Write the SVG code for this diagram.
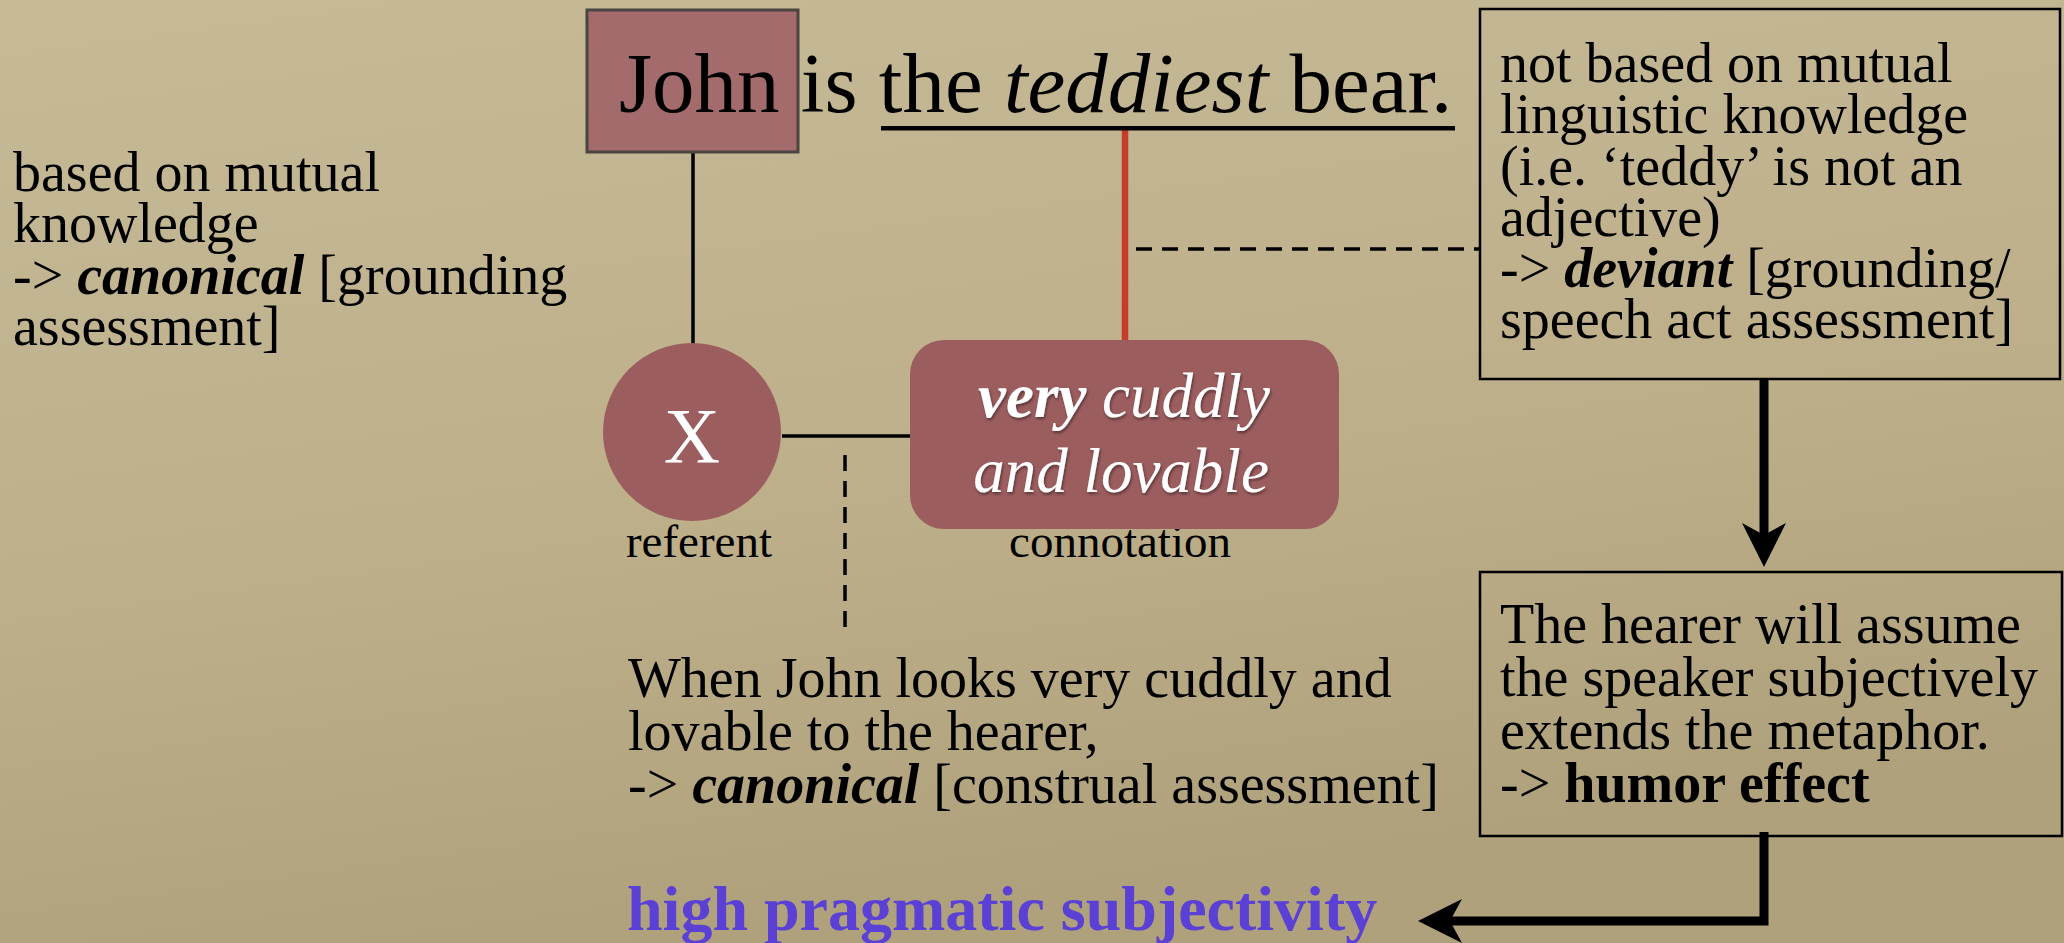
<svg xmlns="http://www.w3.org/2000/svg" width="2064" height="943" viewBox="0 0 2064 943">
  <defs>
    <linearGradient id="bg" x1="0" y1="0" x2="0.3" y2="1">
      <stop offset="0" stop-color="#c6ba97"/>
      <stop offset="0.6" stop-color="#bdaf8a"/>
      <stop offset="1" stop-color="#afa17c"/>
    </linearGradient>
    <marker id="arrow" viewBox="0 -22 44 44" refX="12" refY="0" markerWidth="44" markerHeight="44" markerUnits="userSpaceOnUse" orient="auto">
      <path d="M0,-22 L44,0 L0,22 L12,0 Z" fill="#000"/>
    </marker>
    <filter id="shadow" x="-10%" y="-10%" width="120%" height="130%">
      <feDropShadow dx="1" dy="2" stdDeviation="1.5" flood-color="#000" flood-opacity="0.45"/>
    </filter>
  </defs>
  <style>
    text { font-family: "Liberation Serif", "Times New Roman", serif; fill: #000; }
    .body { font-size: 56px; }
    .small { font-size: 47px; }
    .white { fill: #fff; }
    .bi { font-weight: bold; font-style: italic; }
    .it { font-style: italic; }
    .b { font-weight: bold; }
    .box { fill: none; stroke: #000; stroke-width: 2.5; }
    .node { fill: #9c5d5f; }
    .solid { fill: none; stroke: #000; stroke-width: 3.5; }
    .dash { fill: none; stroke: #000; stroke-width: 3.5; stroke-dasharray: 16 10; }
    .thick { fill: none; stroke: #000; stroke-width: 9; }
    .result { font-size: 64px; font-weight: bold; fill: #5a40d4; }
  </style>

  <rect x="0" y="0" width="2064" height="943" fill="url(#bg)"/>

  <g id="connectors">
    <line class="solid" x1="693" y1="153" x2="693" y2="344"/>
    <line x1="1125" y1="130" x2="1125" y2="341" stroke="#c43d2b" stroke-width="6.5"/>
    <line class="solid" x1="782" y1="436" x2="911" y2="436"/>
    <line class="dash" x1="1136" y1="249" x2="1479" y2="249"/>
    <line class="dash" x1="845" y1="455" x2="845" y2="630"/>
    <path class="thick" d="M1764,380 V535" marker-end="url(#arrow)"/>
    <path class="thick" d="M1764,832 V921 H1450" marker-end="url(#arrow)"/>
  </g>

  <g id="sentence">
    <rect x="587" y="10" width="211" height="142" fill="#a36b6b" stroke="#4a4540" stroke-width="3"/>
    <text x="619" y="112" font-size="85">John is the <tspan class="it">teddiest</tspan> bear.</text>
    <rect x="881" y="126" width="574" height="4.5" fill="#000"/>
  </g>

  <g id="referent">
    <circle class="node" cx="692" cy="432" r="89"/>
    <text x="692" y="462" font-size="78" text-anchor="middle" class="white">X</text>
    <text x="699" y="557" text-anchor="middle" class="small">referent</text>
  </g>

  <g id="connotation">
    <text x="1120" y="557" text-anchor="middle" class="small">connotation</text>
    <rect class="node" x="910" y="340" width="429" height="189" rx="34" ry="34"/>
    <text font-size="63" text-anchor="middle" class="white" filter="url(#shadow)"><tspan x="1124" y="417"><tspan class="bi">very</tspan><tspan class="it"> cuddly</tspan></tspan><tspan class="it" x="1121" y="492">and lovable</tspan></text>
  </g>

  <g id="left-note">
    <text class="body"><tspan x="13" y="191">based on mutual</tspan><tspan x="13" y="242">knowledge</tspan><tspan x="13" y="294">-&gt; <tspan class="bi">canonical</tspan> [grounding</tspan><tspan x="13" y="345">assessment]</tspan></text>
  </g>

  <g id="deviant-box">
    <rect class="box" x="1480" y="9" width="580" height="370"/>
    <text class="body"><tspan x="1500" y="82">not based on mutual</tspan><tspan x="1500" y="133">linguistic knowledge</tspan><tspan x="1500" y="185">(i.e. ‘teddy’ is not an</tspan><tspan x="1500" y="236">adjective)</tspan><tspan x="1500" y="287">-&gt; <tspan class="bi">deviant</tspan> [grounding/</tspan><tspan x="1500" y="338">speech act assessment]</tspan></text>
  </g>

  <g id="humor-box">
    <rect class="box" x="1480" y="572" width="582" height="264"/>
    <text class="body"><tspan x="1500" y="643">The hearer will assume</tspan><tspan x="1500" y="696">the speaker subjectively</tspan><tspan x="1500" y="749">extends the metaphor.</tspan><tspan x="1500" y="802">-&gt; <tspan class="b">humor effect</tspan></tspan></text>
  </g>

  <g id="construal-note">
    <text class="body"><tspan x="628" y="697">When John looks very cuddly and</tspan><tspan x="628" y="750">lovable to the hearer,</tspan><tspan x="628" y="803">-&gt; <tspan class="bi">canonical</tspan> [construal assessment]</tspan></text>
  </g>

  <g id="result">
    <text class="result" x="627" y="930">high pragmatic subjectivity</text>
  </g>
</svg>
